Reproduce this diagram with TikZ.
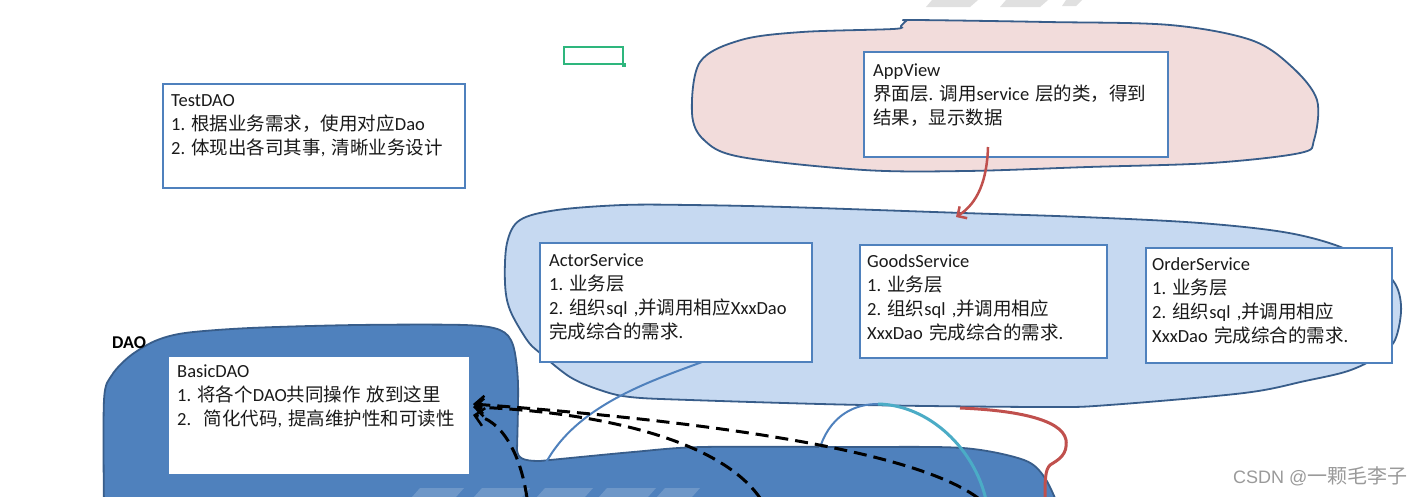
\documentclass[tikz,border=0pt]{standalone}
\usepackage{fontspec}
\setmainfont{Carlito}
\newfontfamily\cjkfont{Noto Sans CJK SC}
\newfontfamily\wmfont{Liberation Sans}
\newfontfamily\wmcjk{Noto Sans CJK SC}
\usetikzlibrary{arrows.meta}
\newcommand\zh[1]{{\cjkfont #1}}
\frenchspacing
\definecolor{boxblue}{HTML}{4F81BD}
\definecolor{edgeblue}{HTML}{385D8A}
\definecolor{svcfill}{HTML}{C6D9F1}
\definecolor{pinkfill}{HTML}{F2DCDB}
\definecolor{daofill}{HTML}{4F81BD}
\definecolor{redline}{HTML}{C0504D}
\definecolor{tealline}{HTML}{4BACC6}
\definecolor{greenline}{HTML}{2EB67D}
\definecolor{wmgray}{HTML}{9A9A9A}
\definecolor{txtcol}{HTML}{1A1A1A}
\begin{document}
\begin{tikzpicture}[x=1pt,y=-1pt,
  box/.style={draw=boxblue, line width=2pt, fill=white, anchor=north west, inner sep=0pt, outer sep=0pt},
  txt/.style={anchor=base west, inner sep=0pt, text width=420pt, align=left, font=\fontsize{18.5}{24}\selectfont, text=txtcol},
  blob/.style={draw=edgeblue, line width=1.8pt},
  dasharrow/.style={draw=black, line width=3pt, dash pattern=on 13pt off 7pt, -{Straight Barb[length=9pt,width=18pt,line width=2.5pt]}},
  redarrow/.style={draw=redline, line width=2.5pt, -{Straight Barb[length=7pt,width=14pt,line width=2.5pt]}},
  blueline/.style={draw=boxblue, line width=2pt},
  tealcurve/.style={draw=tealline, line width=3pt},
  redcurve/.style={draw=redline, line width=3pt},
  stripe/.style={fill=black!12},
  stripelow/.style={fill=white, fill opacity=0.18}
]
\useasboundingbox (0,0) rectangle (1416,496);
\clip (0,0) rectangle (1416,496);
\fill[white] (0,0) rectangle (1416,496);

% watermark stripes (top)
\fill[stripe] (932,0) -- (978,0) -- (970,7) -- (926,7) -- cycle;
\fill[stripe] (1006,0) -- (1048,0) -- (1040,7) -- (1000,7) -- cycle;
\fill[stripe] (1066,0) -- (1082,0) -- (1076,6) -- (1062,6) -- cycle;

% green rectangle
\node[draw=greenline, line width=2pt, minimum width=59pt, minimum height=17pt, anchor=north west, inner sep=0pt] (green) at (563,46) {};
\fill[greenline] ([xshift=-2pt,yshift=-2pt]green.south east) rectangle ([xshift=2pt,yshift=2pt]green.south east);

% AppView blob (pink)
\filldraw[blob, fill=pinkfill] plot[smooth cycle, tension=0.55] coordinates {
 (692,113) (700,62) (741,40) (802,32) (893,29) (901,26) (906,21) (915,20)
 (1047,22) (1170,25) (1251,40) (1292,67) (1317,100) (1314,140) (1300,153)
 (1211,163) (1088,167) (966,171) (864,170) (741,157) (704,140)};

% Service blob (light blue)
\filldraw[blob, fill=svcfill] plot[smooth cycle, tension=0.55] coordinates {
 (520,220) (557,210) (623,205) (690,205) (786,207) (963,213) (1082,217) (1200,223) (1289,233)
 (1348,250) (1390,277) (1401,305) (1395,340) (1377,357) (1348,371) (1305,381)
 (1244,393) (1109,405) (1047,407) (863,405) (690,400) (630,397) (600,390) (570,377)
 (540,353) (527,340) (510,310) (505,283) (507,243)};

% DAO blob (dark blue)
\filldraw[blob, fill=daofill] plot[smooth, tension=0.5] coordinates {
 (104,510) (104,400) (112,375) (130,356) (155,341) (185,333) (250,328)
 (357,325) (464,325) (500,330) (513,345) (518,383) (517,450)}
 .. controls (518,458) and (522,461) .. (540,461)
 -- plot[smooth, tension=0.5] coordinates {(540,461) (633,452) (702,447) (850,447)
 (963,448) (1024,460) (1045,478) (1060,510)} -- cycle;

\node[anchor=base west, inner sep=0pt, font=\bfseries\fontsize{18}{20}\selectfont] (daolbl) at (112,348) {DAO};

% watermark stripes (bottom)
\fill[stripelow] (420,488) -- (464,488) -- (456,497) -- (412,497) -- cycle;
\fill[stripelow] (482,488) -- (530,488) -- (522,497) -- (474,497) -- cycle;
\fill[stripelow] (545,488) -- (593,488) -- (585,497) -- (537,497) -- cycle;
\fill[stripelow] (607,488) -- (656,488) -- (648,497) -- (599,497) -- cycle;
\fill[stripelow] (665,488) -- (700,488) -- (692,497) -- (657,497) -- cycle;

% boxes
\node[box, minimum width=302pt, minimum height=104pt] (testdao) at (163,84) {};
\node[box, minimum width=304pt, minimum height=105pt] (appview) at (864,52) {};
\node[box, minimum width=272pt, minimum height=119pt] (actor) at (540,243) {};
\node[box, minimum width=247pt, minimum height=113pt] (goods) at (860,245) {};
\node[box, minimum width=246pt, minimum height=115pt] (order) at (1146,248) {};
\node[box, draw=white, line width=0.5pt, minimum width=299pt, minimum height=116pt] (basic) at (169,357) {};

% texts
\node[txt] (ttestdao) at (171,106) {TestDAO\\1. \zh{根据业务需求，使用对应}Dao\\2. \zh{体现出各司其事}, \zh{清晰业务设计}};
\node[txt] (tappview) at (873,76) {AppView\\\zh{界面层}. \zh{调用}service \zh{层的类，得到}\\\zh{结果，显示数据}};
\node[txt] (tactor) at (549,266) {ActorService\\1. \zh{业务层}\\2. \zh{组织}sql ,\zh{并调用相应}XxxDao\\\zh{完成综合的需求}.};
\node[txt] (tgoods) at (867,267) {GoodsService\\1. \zh{业务层}\\2. \zh{组织}sql ,\zh{并调用相应}\\XxxDao \zh{完成综合的需求}.};
\node[txt] (torder) at (1152,270) {OrderService\\1. \zh{业务层}\\2. \zh{组织}sql ,\zh{并调用相应}\\XxxDao \zh{完成综合的需求}.};
\node[txt] (tbasic) at (177,377) {BasicDAO\\1. \zh{将各个}DAO\zh{共同操作} \zh{放到这里}\\2.~ \zh{简化代码}, \zh{提高维护性和可读性}};

% coordinates
\coordinate (avout) at (988,147);
\coordinate (svin) at (956,217);
\coordinate (actend) at (533,500);
\coordinate (gtop) at (878,404);
\coordinate (gend) at (802,500);
\coordinate (tend) at (986,500);
\coordinate (rstart) at (960,408);
\coordinate (rend) at (1045,500);
\coordinate (srcA) at (978,498);
\coordinate (srcB) at (760,498);
\coordinate (srcC) at (527,498);

% red arrow AppView -> services
\draw[redarrow] (avout) .. controls (987,180) and (978,203) .. (svin);

% blue arc from ActorService
\draw[blueline] ([xshift=26pt]actor.south) .. controls (640,385) and (548,415) .. (actend);

% blue / teal arc at GoodsService
\draw[blueline] (gtop) .. controls (835,404) and (818,440) .. (817,465) .. controls (816,480) and (810,490) .. (gend);
\draw[tealcurve] (gtop) .. controls (930,405) and (975,450) .. (tend);

% red curve
\draw[redcurve] (rstart) .. controls (1010,410) and (1062,418) .. (1066,440) .. controls (1068,455) and (1058,460) .. (1050,465) .. controls (1045,470) and (1045,480) .. (rend);

% dashed arrows to BasicDAO
\draw[dasharrow] (srcA) .. controls (900,440) and (620,415) .. ([xshift=5pt,yshift=11pt]basic.east);
\draw[dasharrow] (srcB) .. controls (720,440) and (600,412) .. ([xshift=5pt,yshift=8pt]basic.east);
\draw[dasharrow] (srcC) .. controls (520,450) and (500,420) .. ([xshift=5pt,yshift=0pt]basic.east);

% CSDN watermark
\node[anchor=base west, inner sep=0pt, text=wmgray, font=\wmfont\fontsize{18}{20}\selectfont] (csdn) at (1233,483) {CSDN @{\wmcjk\fontsize{20}{20}\selectfont 一颗毛李子}};
\end{tikzpicture}
\end{document}
